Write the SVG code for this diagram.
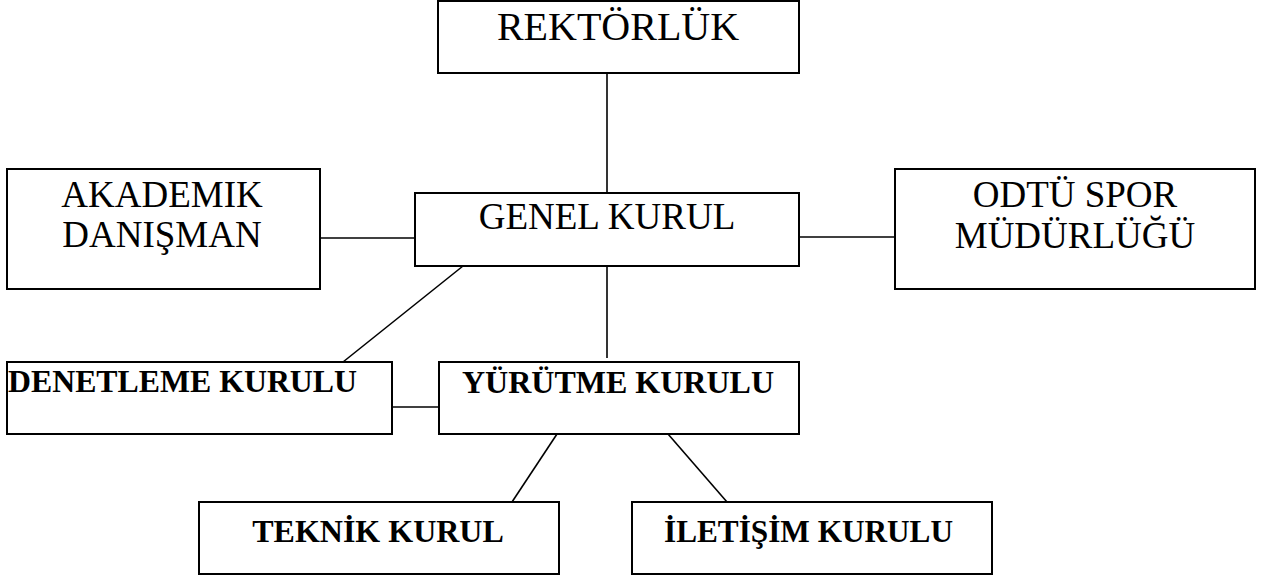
<svg xmlns="http://www.w3.org/2000/svg" width="1264" height="579" viewBox="0 0 1264 579">
<style>
.box{fill:#fff;stroke:#000;stroke-width:2}
.ln{stroke:#000;stroke-width:1.6;fill:none}
.t{font-family:"Liberation Serif","Times New Roman",serif;font-size:37px;fill:#000;text-anchor:middle}
.b{font-family:"Liberation Serif","Times New Roman",serif;font-size:32px;font-weight:bold;fill:#000}
</style>
<rect width="1264" height="579" fill="#fff"/>
<g id="connectors">
<line class="ln" x1="607" y1="73" x2="607" y2="193"/>
<line class="ln" x1="320" y1="238" x2="415" y2="238"/>
<line class="ln" x1="799" y1="237" x2="895" y2="237"/>
<line class="ln" x1="463" y1="266" x2="343" y2="362"/>
<line class="ln" x1="607" y1="262" x2="607" y2="358"/>
<line class="ln" x1="392" y1="407" x2="439" y2="407"/>
<line class="ln" x1="557" y1="434" x2="512" y2="502"/>
<line class="ln" x1="668" y1="434" x2="727" y2="502"/>
</g>
<g id="rektorluk">
<rect class="box" x="438" y="1" width="361" height="72"/>
<text class="t" x="618" y="40" style="font-size:40px">REKTÖRLÜK</text>
</g>
<g id="genel-kurul">
<rect class="box" x="415" y="193" width="384" height="73"/>
<text class="t" x="607" y="229">GENEL KURUL</text>
</g>
<g id="akademik-danisman">
<rect class="box" x="7" y="169" width="313" height="120"/>
<text class="t" x="162" y="207">AKADEMIK</text>
<text class="t" x="162" y="247">DANIŞMAN</text>
</g>
<g id="odtu-spor">
<rect class="box" x="895" y="169" width="360" height="120"/>
<text class="t" x="1075" y="207">ODTÜ SPOR</text>
<text class="t" x="1075" y="248">MÜDÜRLÜĞÜ</text>
</g>
<g id="denetleme-kurulu">
<rect class="box" x="7" y="362" width="385" height="72"/>
<text class="b" x="8" y="392" textLength="349" lengthAdjust="spacingAndGlyphs">DENETLEME KURULU</text>
</g>
<g id="yurutme-kurulu">
<rect class="box" x="439" y="362" width="360" height="72"/>
<text class="b" x="618" y="393" text-anchor="middle">YÜRÜTME KURULU</text>
</g>
<g id="teknik-kurul">
<rect class="box" x="199" y="502" width="360" height="72"/>
<text class="b" x="378" y="542" text-anchor="middle">TEKNİK KURUL</text>
</g>
<g id="iletisim-kurulu">
<rect class="box" x="632" y="502" width="360" height="72"/>
<text class="b" x="664" y="542" textLength="289" lengthAdjust="spacingAndGlyphs">İLETİŞİM KURULU</text>
</g>
</svg>
